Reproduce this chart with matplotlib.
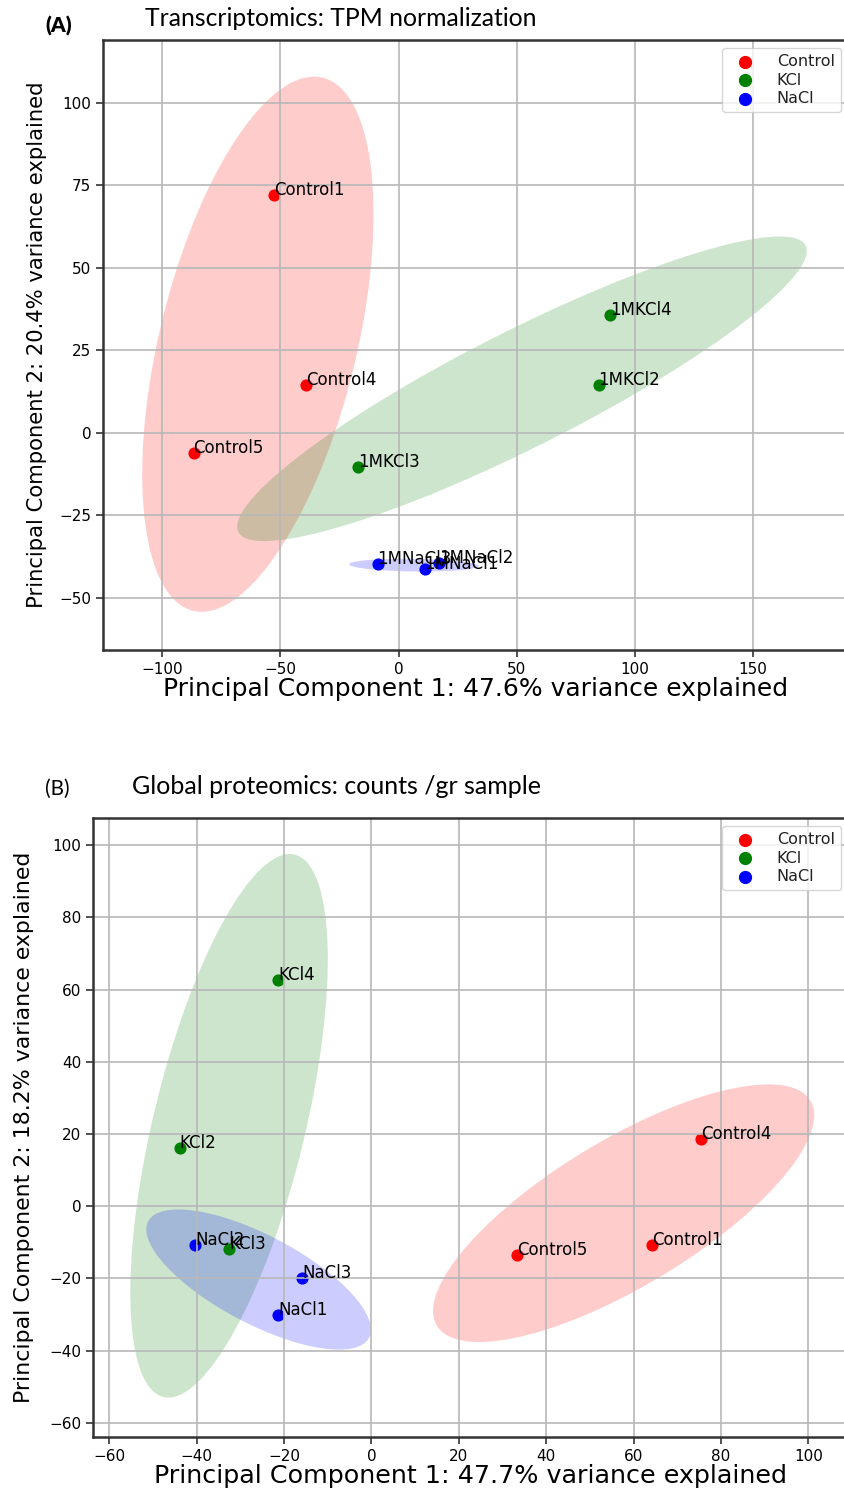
import numpy as np
import matplotlib
matplotlib.use("Agg")
import matplotlib.pyplot as plt
import matplotlib.transforms as transforms
from matplotlib.patches import Ellipse

# ---- data ----
groups = ["Control", "KCl", "NaCl"]
colors = {"Control": "red", "KCl": "green", "NaCl": "blue"}

# panel A: transcriptomics (TPM)
a_names = ["Control1", "Control4", "Control5",
           "1MKCl4", "1MKCl2", "1MKCl3",
           "1MNaCl3", "1MNaCl1", "1MNaCl2"]
a_group = ["Control", "Control", "Control", "KCl", "KCl", "KCl", "NaCl", "NaCl", "NaCl"]
a_pc1 = [-52.5, -39.3, -86.7, 89.3, 84.6, -17.3, -8.9, 11.0, 17.3]
a_pc2 = [72.1, 14.5, -6.1, 35.8, 14.5, -10.3, -39.7, -41.2, -39.4]

# panel B: global proteomics
b_names = ["Control4", "Control5", "Control1",
           "KCl4", "KCl2", "KCl3",
           "NaCl2", "NaCl3", "NaCl1"]
b_group = ["Control", "Control", "Control", "KCl", "KCl", "KCl", "NaCl", "NaCl", "NaCl"]
b_pc1 = [75.5, 33.4, 64.3, -21.3, -43.9, -32.5, -40.3, -15.8, -21.3]
b_pc2 = [18.6, -13.6, -10.8, 62.6, 16.1, -11.9, -10.8, -19.9, -30.2]


def confidence_ellipse(x, y, ax, n_std=2.0, **kwargs):
    cov = np.cov(x, y)
    pearson = cov[0, 1] / np.sqrt(cov[0, 0] * cov[1, 1])
    rx = np.sqrt(1 + pearson)
    ry = np.sqrt(1 - pearson)
    ell = Ellipse((0, 0), width=rx * 2, height=ry * 2, **kwargs)
    tr = (transforms.Affine2D().rotate_deg(45)
          .scale(np.sqrt(cov[0, 0]) * n_std, np.sqrt(cov[1, 1]) * n_std)
          .translate(np.mean(x), np.mean(y)))
    ell.set_transform(tr + ax.transData)
    return ax.add_patch(ell)


def pca_panel(ax, names, grp, pc1, pc2, xlabel, ylabel, xlabel_size, ylabel_size, ypad):
    pc1 = np.array(pc1)
    pc2 = np.array(pc2)
    grp = np.array(grp)
    for g in groups:
        m = grp == g
        ax.scatter(pc1[m], pc2[m], color=colors[g], s=60, label=g, zorder=1)
        confidence_ellipse(pc1[m], pc2[m], ax, n_std=2.0,
                           facecolor=colors[g], alpha=0.2, edgecolor="none", zorder=0.8)
    for n, x, y in zip(names, pc1, pc2):
        ax.annotate(n, (x, y), fontsize=12, color="black")
    ax.grid(True, color="#b8b8b8", linewidth=1.2)
    ax.set_xlabel(xlabel, fontsize=xlabel_size, labelpad=0)
    ax.set_ylabel(ylabel, fontsize=ylabel_size, labelpad=ypad)
    ax.tick_params(labelsize=11, width=1.2, length=5, color="#333333")
    for s in ax.spines.values():
        s.set_linewidth(1.8)
        s.set_color("#333333")
    leg = ax.legend(loc="upper right", fontsize=11.5, handletextpad=1.0,
                    borderpad=0.4, labelspacing=0.2, framealpha=0.8, markerscale=1.1)
    for t in leg.get_texts():
        t.set_color("#222222")


fig = plt.figure(figsize=(8.45, 14.89), dpi=100)

# panel A
axA = fig.add_axes([103 / 845, 1 - 650 / 1489, (849 - 103) / 845, (650 - 40) / 1489])
pca_panel(axA, a_names, a_group, a_pc1, a_pc2,
          "Principal Component 1: 47.6% variance explained",
          "Principal Component 2: 20.4% variance explained", 18, 15.2, 9)
axA.set_xlim(-125, 190.5)
axA.set_ylim(-65.8, 119)
axA.set_xticks([-100, -50, 0, 50, 100, 150])
axA.set_yticks([-50, -25, 0, 25, 50, 75, 100])

# panel B
axB = fig.add_axes([93 / 845, 1 - 1437 / 1489, (849 - 93) / 845, (1437 - 818) / 1489])
pca_panel(axB, b_names, b_group, b_pc1, b_pc2,
          "Principal Component 1: 47.7% variance explained",
          "Principal Component 2: 18.2% variance explained", 18.3, 15.8, 11)
axB.set_xlim(-63.7, 109.3)
axB.set_ylim(-63.9, 107.5)
axB.set_xticks([-60, -40, -20, 0, 20, 40, 60, 80, 100])
axB.set_yticks([-60, -40, -20, 0, 20, 40, 60, 80, 100])

# panel headings
fig.text(45 / 845, 1 - 26 / 1489, "(A)", fontsize=15, fontweight="heavy",
         family="Lato", va="center", ha="left")
fig.text(145 / 845, 1 - 18 / 1489, "Transcriptomics: TPM normalization", fontsize=17.8,
         family="Lato", va="center", ha="left")
fig.text(45 / 845, 1 - 789 / 1489, "(B)", fontsize=15,
         family="Lato", va="center", ha="left")
fig.text(132 / 845, 1 - 787 / 1489, "Global proteomics: counts /gr sample", fontsize=18,
         family="Lato", va="center", ha="left")

fig.savefig("out.png", dpi=100)
